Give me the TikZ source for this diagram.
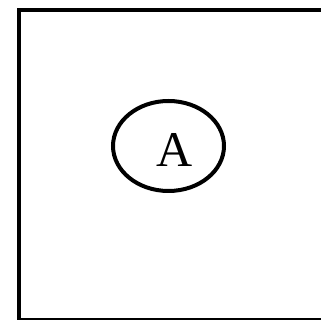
\documentclass[tikz,border=0pt]{standalone}
\usepackage{fontspec}
\setmainfont{Liberation Serif}
\usetikzlibrary{shapes.geometric}
\begin{document}
\begin{tikzpicture}[
    x=1pt, y=1pt,
    frame/.style={draw, line width=4.5pt},
    oval/.style={draw, ellipse, line width=4pt, minimum width=111pt,
                 minimum height=90pt, inner sep=0pt},
    lbl/.style={font=\fontsize{50}{50}\selectfont, inner sep=0pt}
  ]
    \useasboundingbox (0,0) rectangle (321,320);
    \begin{scope}
      \clip (0,0) rectangle (321,320);
      %% --- Outer frame ---
      \draw[frame] (19,310) rectangle (340,-0.5);
    \end{scope}
    %% --- Ellipse with its letter ---
    \node[oval] (a) at (168.5,174) {};
    \node[lbl] (alabel) at (175,170) {A};
  \end{tikzpicture}
\end{document}
